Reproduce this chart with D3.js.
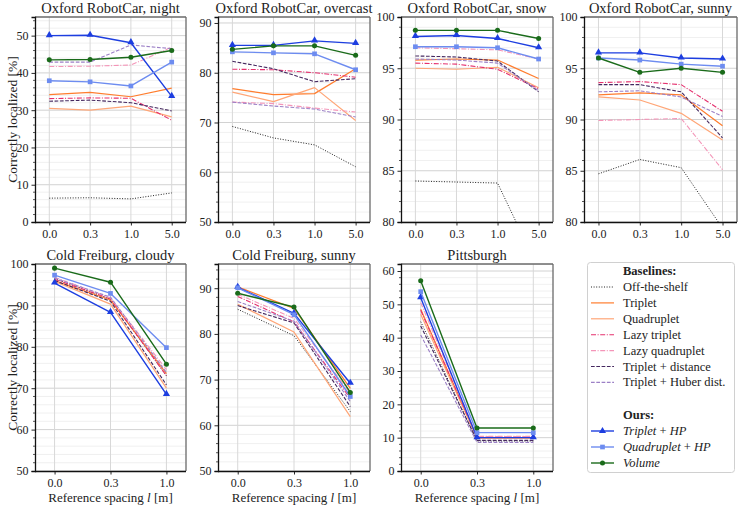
<!DOCTYPE html>
<html><head><meta charset="utf-8">
<script src="https://cdn.jsdelivr.net/npm/d3@7"></script>
<style>
body{margin:0;background:#fff;}
svg{display:block;font-family:"Liberation Serif","DejaVu Serif",serif;}
</style></head>
<body><svg id="c" width="747" height="505"></svg>
<script>
// ---------------- DATA ----------------
const panelTitles = ["Oxford RobotCar, night","Oxford RobotCar, overcast","Oxford RobotCar, snow","Oxford RobotCar, sunny","Cold Freiburg, cloudy","Cold Freiburg, sunny","Pittsburgh"];
const categoriesOxford = ["0.0","0.3","1.0","5.0"];
const categoriesOther = ["0.0","0.3","1.0"];
const yDomains = [[0,55],[50,91.2],[80,100],[80,100],[50,100],[50,95.3],[0,62.1]];
const yMajorStep = [10,10,5,5,10,10,10];
const yMinorStep = [2,2,1,1,2,2,2];

// one sub-array per panel (same order as panelTitles)
const offTheShelf = [[6.4,6.5,6.2,7.8],[69.2,66.9,65.5,61.1],[84.0,83.9,83.8,75.4],[84.7,86.1,85.3,79.4],[96.5,91.5,73.0],[85.4,79.6,63.0],[44.8,9.0,9.0]];
const triplet = [[34.2,34.8,33.6,35.9],[76.8,75.6,75.8,80.8],[95.8,95.9,95.8,94.0],[92.4,92.6,92.4,89.4],[96.0,91.3,73.5],[90.3,85.6,68.1],[48.5,10.0,10.0]];
const quadruplet = [[30.5,30.0,31.1,28.2],[76.1,74.2,77.0,70.4],[95.0,94.9,95.1,93.1],[92.2,91.9,90.6,88.0],[95.8,90.3,70.0],[86.5,80.4,61.9],[47.0,9.8,9.8]];
const lazyTriplet = [[33.1,33.3,33.2,27.3],[80.7,80.6,80.0,79.1],[95.5,95.4,94.9,93.0],[93.6,93.7,93.4,90.8],[96.3,91.6,73.0],[88.2,82.6,65.9],[48.2,10.2,10.2]];
const lazyQuadruplet = [[41.7,41.8,42.1,46.9],[74.1,73.8,72.9,72.1],[97.0,96.9,96.8,95.9],[89.9,90.0,90.1,85.1],[96.8,91.8,74.5],[88.7,83.4,67.0],[50.5,10.4,10.4]];
const tripletDistance = [[32.4,32.7,32.0,29.8],[82.3,80.8,78.2,78.8],[96.2,96.1,95.7,92.7],[93.4,93.4,92.7,88.2],[96.0,91.0,70.8],[86.2,82.4,64.1],[43.5,9.2,9.2]];
const tripletHuber = [[42.9,42.9,47.5,46.5],[74.1,73.3,72.7,71.1],[95.9,95.8,95.5,92.8],[92.7,92.8,92.2,90.3],[96.6,92.0,73.8],[87.1,82.8,65.2],[40.8,8.6,8.6]];
const tripletHP = [[50.0,50.1,48.1,33.7],[85.5,85.5,86.4,85.9],[98.1,98.2,97.9,97.0],[96.5,96.5,96.0,95.9],[95.4,88.3,68.5],[90.2,84.5,69.2],[52.0,10.0,10.0]];
const quadrupletHP = [[37.9,37.6,36.5,42.9],[84.2,84.0,83.8,80.6],[97.1,97.1,97.0,95.9],[96.0,95.8,95.4,95.2],[97.3,92.9,79.8],[90.1,84.2,66.3],[53.8,11.5,11.5]];
const volume = [[43.5,43.6,44.2,46.0],[84.7,85.4,85.4,83.5],[98.7,98.7,98.7,97.9],[96.0,94.6,95.0,94.6],[99.0,95.6,75.8],[88.9,85.9,67.2],[57.1,12.9,12.9]];

const baselineNames = ["Off-the-shelf","Triplet","Quadruplet","Lazy triplet","Lazy quadruplet","Triplet + distance","Triplet + Huber dist."];
const oursNames = [["Triplet"," + ","HP"],["Quadruplet"," + ","HP"],["Volume","",""]];

// ---------------- STYLE ----------------
const series = [
  {data:offTheShelf, color:"#222222", dash:"1,1.6", w:1.0},
  {data:triplet, color:"#ff7d2e", dash:null, w:1.2},
  {data:quadruplet, color:"#ffa677", dash:null, w:1.2},
  {data:lazyTriplet, color:"#e5306e", dash:"5,1.6,1,1.6", w:1.1},
  {data:lazyQuadruplet, color:"#f495b8", dash:"5,1.6,1,1.6", w:1.1},
  {data:tripletDistance, color:"#45285f", dash:"3.7,1.6", w:1.1},
  {data:tripletHuber, color:"#9c80c6", dash:"3.7,1.6", w:1.1},
  {data:tripletHP, color:"#1d3ee0", dash:null, w:1.4, marker:"tri"},
  {data:quadrupletHP, color:"#6d8cf0", dash:null, w:1.4, marker:"sq"},
  {data:volume, color:"#1a6b1a", dash:null, w:1.4, marker:"circ"}
];

const colX = [[35,186],[218,370],[401,553],[584,737]];
const rowY = [[17,222],[264,471]];
const panelPos = [[0,0],[1,0],[2,0],[3,0],[0,1],[1,1],[2,1]];

const svg = d3.select("#c");
const defs = svg.append("defs");

function markerPath(type){
  if(type==="tri") return d3.symbol(d3.symbolTriangle, 22)();
  if(type==="sq") return d3.symbol(d3.symbolSquare, 22)();
  return d3.symbol(d3.symbolCircle, 20)();
}

panelTitles.forEach((title,i)=>{
  const [c,r] = panelPos[i];
  const x0=colX[c][0], x1=colX[c][1], y0=rowY[r][0], y1=rowY[r][1];
  const cats = i<4 ? categoriesOxford : categoriesOther;
  const x = d3.scalePoint().domain(cats).range([x0,x1]).padding(0.35);
  const y = d3.scaleLinear().domain(yDomains[i]).range([y1,y0]);
  const g = svg.append("g");

  const [d0,d1]=yDomains[i];
  const majors = d3.range(Math.ceil(d0/yMajorStep[i])*yMajorStep[i], d1+1e-9, yMajorStep[i]);
  const minors = d3.range(Math.ceil(d0/yMinorStep[i])*yMinorStep[i], d1+1e-9, yMinorStep[i])
      .filter(v=>Math.abs(v/yMajorStep[i]-Math.round(v/yMajorStep[i]))>1e-6);

  g.selectAll(".mg").data(minors).join("line")
    .attr("x1",x0).attr("x2",x1).attr("y1",d=>y(d)).attr("y2",d=>y(d))
    .attr("stroke","#ececec").attr("stroke-width",0.8);
  g.selectAll(".Mg").data(majors).join("line")
    .attr("x1",x0).attr("x2",x1).attr("y1",d=>y(d)).attr("y2",d=>y(d))
    .attr("stroke","#d2d2d2").attr("stroke-width",1);
  g.selectAll(".vg").data(cats).join("line")
    .attr("x1",d=>x(d)).attr("x2",d=>x(d)).attr("y1",y0).attr("y2",y1)
    .attr("stroke","#d8d8d8").attr("stroke-width",1);

  const cid="clip"+i;
  defs.append("clipPath").attr("id",cid).append("rect").attr("x",x0).attr("y",y0).attr("width",x1-x0).attr("height",y1-y0);
  const pg = g.append("g").attr("clip-path",`url(#${cid})`);

  const line = d3.line().x((d,k)=>x(cats[k])).y(d=>y(d));
  series.forEach(s=>{
    const vals = s.data[i];
    pg.append("path").attr("d",line(vals)).attr("fill","none")
      .attr("stroke",s.color).attr("stroke-width",s.w)
      .attr("stroke-dasharray",s.dash).attr("stroke-linejoin","round");
    if(s.marker){
      pg.selectAll(null).data(vals).join("path")
        .attr("d",markerPath(s.marker))
        .attr("transform",(d,k)=>`translate(${x(cats[k])},${y(d)+(s.marker==="tri"?-0.5:0)})`)
        .attr("fill",s.color);
    }
  });

  g.append("line").attr("x1",x0).attr("x2",x1).attr("y1",y0).attr("y2",y0).attr("stroke","#6a6a6a").attr("stroke-width",1.3);
  g.append("line").attr("x1",x1).attr("x2",x1).attr("y1",y0).attr("y2",y1).attr("stroke","#6a6a6a").attr("stroke-width",1.3);
  const ya = d3.axisLeft(y).tickValues(majors).tickSize(3.5).tickPadding(3).tickFormat(d3.format("d"));
  const yag = g.append("g").attr("transform",`translate(${x0},0)`).call(ya);
  yag.select(".domain").attr("stroke","#111").attr("stroke-width",1.3);
  yag.selectAll(".tick line").attr("stroke","#111").attr("stroke-width",0.9);
  yag.selectAll("text").attr("font-size",12).attr("fill","#222").attr("font-family","Liberation Serif, serif");
  g.selectAll(".mt").data(minors).join("line")
    .attr("x1",x0-2).attr("x2",x0).attr("y1",d=>y(d)).attr("y2",d=>y(d))
    .attr("stroke","#111").attr("stroke-width",0.7);

  const xa = d3.axisBottom(x).tickSize(3.5).tickPadding(4);
  const xag = g.append("g").attr("transform",`translate(0,${y1})`).call(xa);
  xag.select(".domain").attr("d",`M${x0},0.5H${x1}`).attr("stroke","#111").attr("stroke-width",1.3);
  xag.selectAll(".tick line").attr("stroke","#111").attr("stroke-width",0.9);
  xag.selectAll("text").attr("font-size",12).attr("fill","#222").attr("font-family","Liberation Serif, serif");

  g.append("text").attr("x",(x0+x1)/2).attr("y",y0-4).attr("text-anchor","middle")
    .attr("font-size",14.5).attr("fill","#222").text(title);

  if(r===1){
    const t = g.append("text").attr("x",(x0+x1)/2).attr("y",502).attr("text-anchor","middle")
      .attr("font-size",13).attr("fill","#222");
    t.append("tspan").text("Reference spacing ");
    t.append("tspan").attr("font-style","italic").text("l");
    t.append("tspan").text(" [m]");
  }
  if(c===0){
    g.append("text").attr("transform",`translate(12,${(y0+y1)/2}) rotate(-90)`).attr("text-anchor","middle")
      .attr("dy","0.35em").attr("font-size",13.5).attr("fill","#222").text("Correctly localized [%]");
  }
});

// ---------------- LEGEND ----------------
const lg = svg.append("g");
lg.append("rect").attr("x",587.5).attr("y",262.5).attr("width",147).attr("height",210).attr("rx",3)
  .attr("fill","#fff").attr("stroke","#d0d0d0").attr("stroke-width",1);
const hx0=591, hx1=614, tx=623;
lg.append("text").attr("x",tx).attr("y",275).attr("font-size",12.5).attr("font-weight","bold").attr("fill","#222").text("Baselines:");
baselineNames.forEach((n,k)=>{
  const yy = 291 + k*15.9;
  const s = series[k];
  lg.append("line").attr("x1",hx0).attr("x2",hx1).attr("y1",yy-4).attr("y2",yy-4)
    .attr("stroke",s.color).attr("stroke-width",s.w).attr("stroke-dasharray",s.dash);
  lg.append("text").attr("x",tx).attr("y",yy).attr("font-size",12.5).attr("fill","#222").text(n);
});
lg.append("text").attr("x",tx).attr("y",419).attr("font-size",12.5).attr("font-weight","bold").attr("fill","#222").text("Ours:");
oursNames.forEach((n,k)=>{
  const yy = 435 + k*16;
  const s = series[7+k];
  lg.append("line").attr("x1",hx0).attr("x2",hx1).attr("y1",yy-4).attr("y2",yy-4)
    .attr("stroke",s.color).attr("stroke-width",s.w);
  lg.append("path").attr("d",markerPath(s.marker)).attr("transform",`translate(${(hx0+hx1)/2},${yy-4})`).attr("fill",s.color);
  const t = lg.append("text").attr("x",tx).attr("y",yy).attr("font-size",12.5).attr("fill","#222");
  t.append("tspan").attr("font-style","italic").text(n[0]);
  if(n[1]) t.append("tspan").text(n[1]);
  if(n[2]) t.append("tspan").attr("font-style","italic").text(n[2]);
});
</script></body></html>
